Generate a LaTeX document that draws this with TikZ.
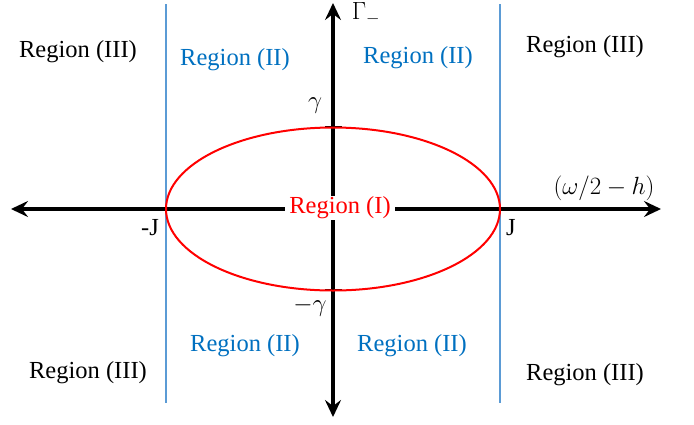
\documentclass[tikz,border=0pt]{standalone}
\usepackage{fontspec}
\setmainfont{Liberation Serif}
\usetikzlibrary{arrows.meta}
\definecolor{regblue}{RGB}{0,112,192}
\definecolor{lineblue}{RGB}{91,155,213}
\tikzset{
  axis/.style={line width=3.2pt,-{Stealth[length=17pt,width=16pt,inset=6pt]}},
  bound/.style={line width=1.8pt,draw=lineblue},
  lbl/.style={font=\fontsize{24.5}{28}\selectfont,inner sep=1pt},
  mlbl/.style={font=\fontsize{27}{30}\selectfont,inner sep=1pt},
  rthree/.style={lbl,text=black},
  rtwo/.style={lbl,text=regblue},
  tick/.style={line width=2.4pt},
}
\begin{document}
\begin{tikzpicture}[x=1pt,y=-1pt]
\useasboundingbox (0,0) rectangle (694,424);
% coordinates
\coordinate (ctr) at (333,209);
\coordinate (xl) at (11,209);
\coordinate (xr) at (661,209);
\coordinate (yt) at (333,3);
\coordinate (yb) at (333,417);
\coordinate (bl1) at (166,4);
\coordinate (bl2) at (166,403);
\coordinate (br1) at (500,4);
\coordinate (br2) at (500,403);
\coordinate (t1a) at (325,127);
\coordinate (t1b) at (342,127);
\coordinate (t2a) at (325,290);
\coordinate (t2b) at (342,290);
% boundary lines
\draw[bound] (bl1) -- (bl2);
\draw[bound] (br1) -- (br2);
% axes
\draw[axis] (ctr) -- (xl);
\draw[axis] (ctr) -- (xr);
\draw[axis] (ctr) -- (yt);
\draw[axis] (ctr) -- (yb);
% ticks
\draw[tick] (t1a) -- (t1b);
\draw[tick] (t2a) -- (t2b);
% ellipse
\draw[red,line width=2pt] (ctr) ellipse [x radius=167, y radius=81.5];
% labels
\node[lbl,text=red,fill=white,inner xsep=4pt] (r1) at (340,208) {Region (I)};
\node[rtwo] (r2a) at (235,60) {Region (II)};
\node[rtwo] (r2b) at (418,58) {Region (II)};
\node[rtwo] (r2c) at (245,346) {Region (II)};
\node[rtwo] (r2d) at (412,346) {Region (II)};
\node[rthree] (r3a) at (78,52) {Region (III)};
\node[rthree] (r3b) at (585,47) {Region (III)};
\node[rthree] (r3c) at (88,373) {Region (III)};
\node[rthree] (r3d) at (585,375) {Region (III)};
\node[mlbl] (gam) at (366,14) {$\Gamma_{-}$};
\node[mlbl,font=\fontsize{31}{34}\selectfont] (g1) at (315,106) {$\gamma$};
\node[mlbl,font=\fontsize{29}{32}\selectfont] (g2) at (310,307) {$-\gamma$};
\node[mlbl] (wh) at (604,188) {$(\omega/2-h)$};
\node[lbl] (jr) at (511,228) {J};
\node[lbl] (jl) at (150,228) {-J};
\end{tikzpicture}
\end{document}
